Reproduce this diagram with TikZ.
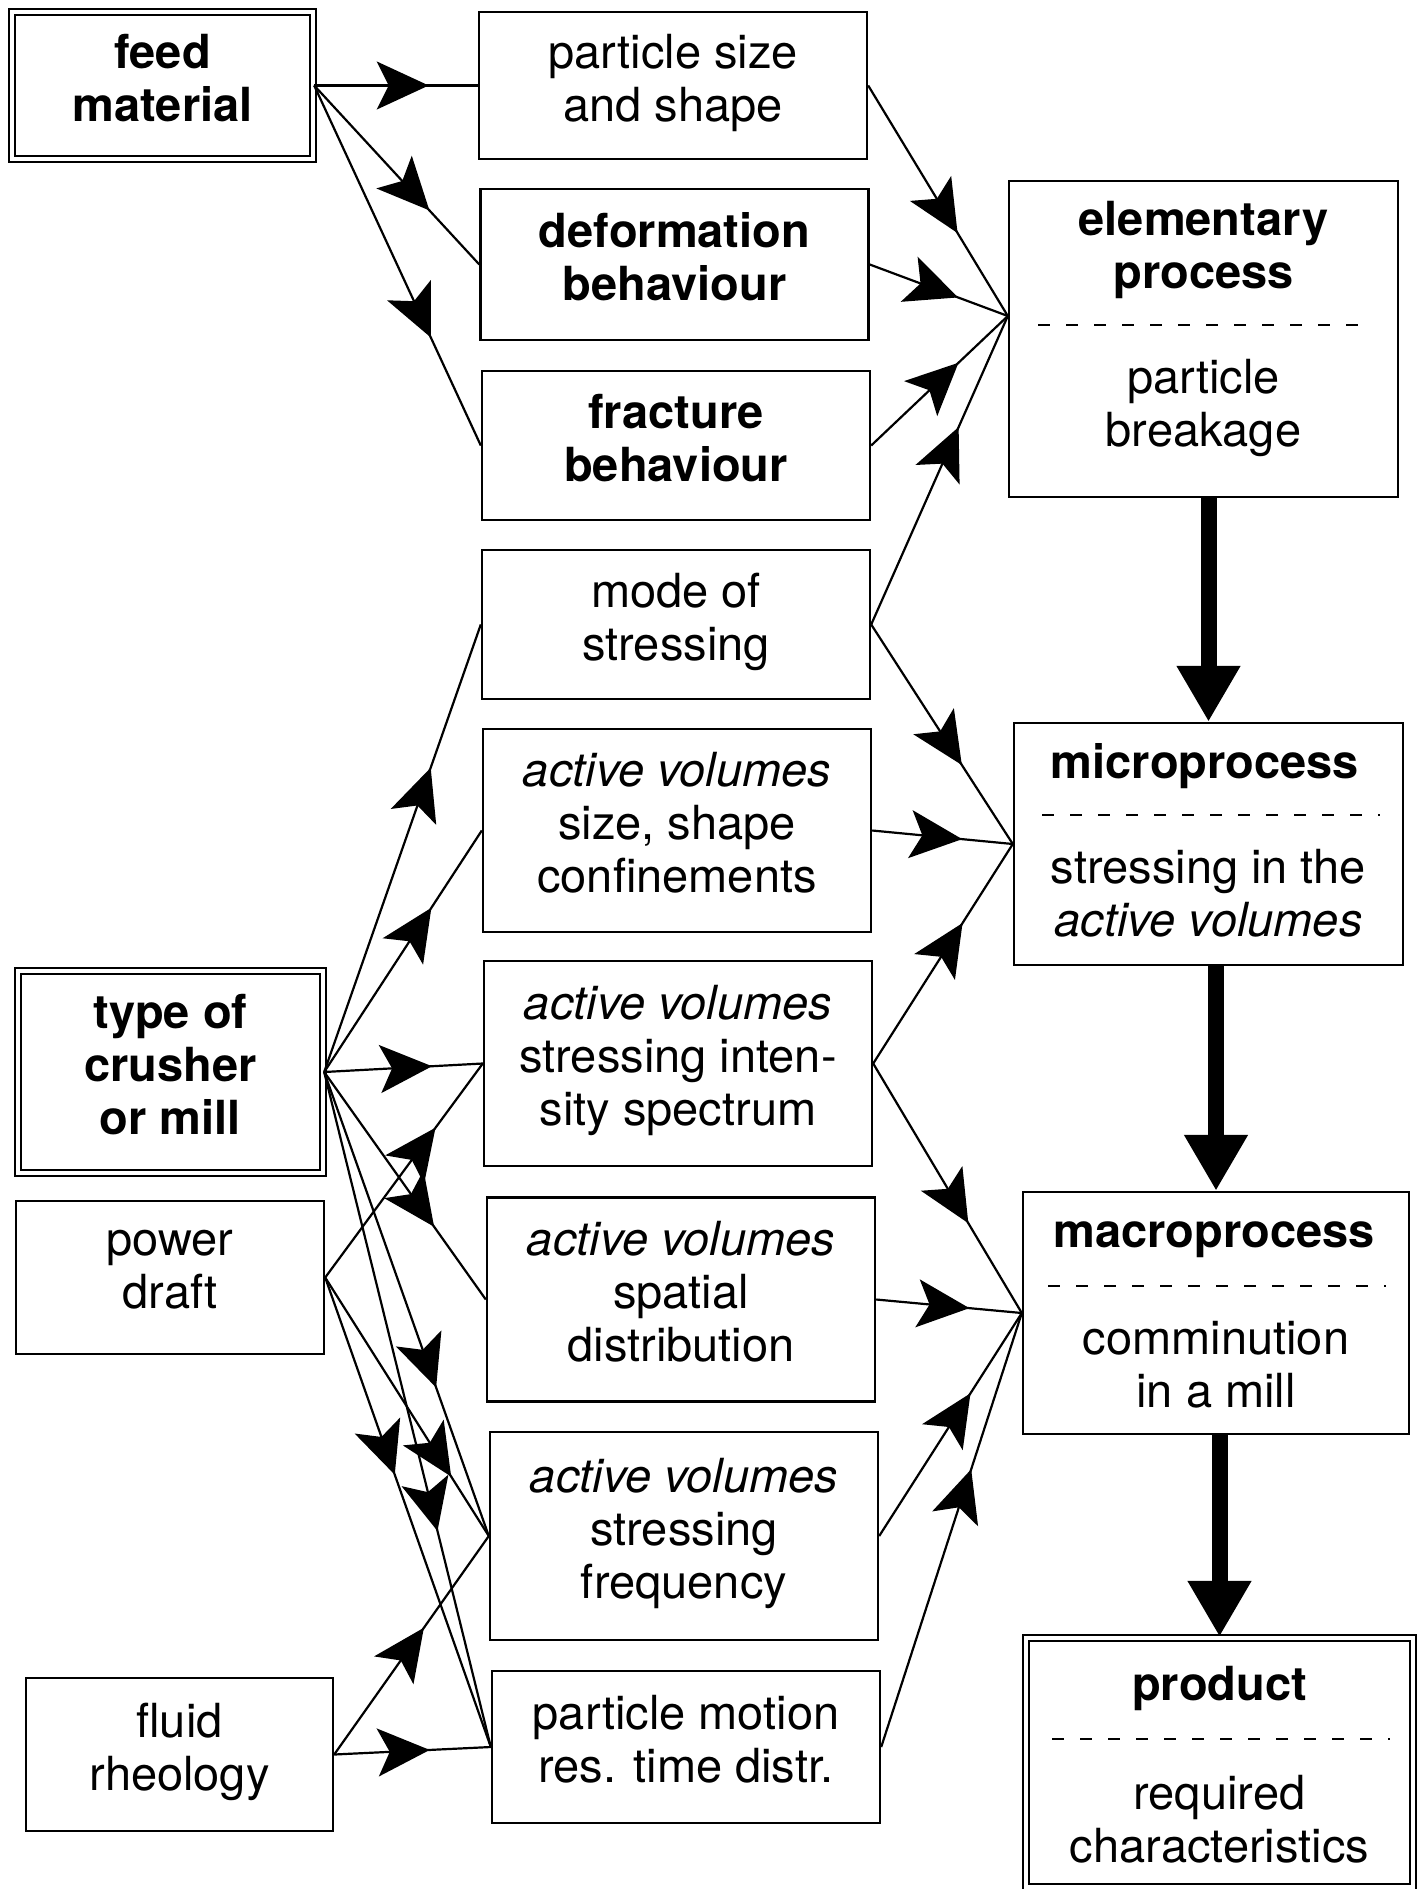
\documentclass[tikz,border=0pt]{standalone}
\usepackage{fontspec}
\setmainfont{TeX Gyre Heros}
\usetikzlibrary{arrows.meta,decorations.markings}

\newcommand{\boxfont}{\fontsize{23.5}{26.5}\selectfont}
\newcommand{\topstrut}{\rule{0pt}{17pt}}
\newcommand{\botstrut}{\rule[-8pt]{0pt}{8pt}}

\tikzset{
  box/.style={draw, line width=1.2pt, inner sep=0pt, align=center, font=\boxfont,
    minimum width=194pt, execute at begin node={\topstrut}, execute at end node={\botstrut}},
  keybox/.style={box, double, double distance=1.6pt},
  label/.style={inner sep=0pt, align=center, font=\boxfont},
  sepline/.style={line width=1pt, dash pattern=on 6pt off 8pt},
  flow/.style={line width=1.1pt,
    decoration={markings, mark=at position #1 with {\arrow{Stealth[length=26pt,width=24pt,inset=6pt]}}},
    postaction={decorate}},
  flow/.default=0.66,
  bigflow/.style={line width=8pt, -{Triangle[length=28pt,width=30pt]}}
}

\begin{document}
\begin{tikzpicture}[x=0.5pt, y=-0.5pt]
\useasboundingbox (0,0) rectangle (1420,1889);

% Inputs
\node[keybox, minimum width=150.5pt, minimum height=73.5pt, font=\boxfont\bfseries] (feed) at (162.5,85.5) {feed\\material};
\node[keybox, minimum width=152.5pt, minimum height=101pt, font=\boxfont\bfseries] (type) at (170.5,1072) {type of\\crusher\\or mill};
\node[box, minimum width=154pt, minimum height=76.5pt] (power) at (170,1277.5) {power\\draft};
\node[box, minimum width=153.5pt, minimum height=76.5pt] (fluid) at (179.5,1754.5) {fluid\\rheology};

% Influencing quantities
\node[box, minimum height=73.5pt] (particle) at (673,85.5) {particle size\\and shape};
\node[box, minimum height=75.5pt, font=\boxfont\bfseries] (deform) at (674.5,264.5) {deformation\\behaviour};
\node[box, minimum height=74.5pt, font=\boxfont\bfseries] (fract) at (676,445.5) {fracture\\behaviour};
\node[box, minimum height=74.5pt] (mode) at (676,624.5) {mode of\\stressing};
\node[box, minimum height=101.5pt] (avsize) at (677,830.5) {\textit{active volumes}\\size, shape\\confinements};
\node[box, minimum height=102.5pt] (avint) at (678,1063.5) {\textit{active volumes}\\stressing inten-\\sity spectrum};
\node[box, minimum height=102pt] (avspat) at (681,1299.5) {\textit{active volumes}\\spatial\\distribution};
\node[box, minimum height=104pt] (avfreq) at (684,1536) {\textit{active volumes}\\stressing\\frequency};
\node[box, minimum height=76pt] (motion) at (686,1747) {particle motion\\res. time distr.};

% Process levels
\node[box, minimum width=194.5pt, minimum height=158pt] (elem) at (1203.5,339) {};
\node[label, font=\boxfont\bfseries] (elemhead) at (1203.5,250) {elementary\\process};
\node[label] (elembody) at (1203.5,408) {particle\\breakage};
\draw[sepline] (1038,325) -- (1373,325);

\node[box, minimum width=194.5pt, minimum height=121pt] (micro) at (1208.5,844) {};
\node[label, font=\boxfont\bfseries] (microhead) at (1205,766) {microprocess};
\node[label] (microbody) at (1208.5,893) {stressing in the\\\textit{active volumes}};
\draw[sepline] (1042,815) -- (1380,815);

\node[box, minimum width=193pt, minimum height=121pt] (macro) at (1216,1313) {};
\node[label, font=\boxfont\bfseries] (macrohead) at (1214,1240) {macroprocess};
\node[label] (macrobody) at (1216,1364.5) {comminution\\in a mill};
\draw[sepline] (1048,1286) -- (1386,1286);

\node[keybox, minimum width=193.5pt, minimum height=124.5pt] (product) at (1219.5,1762.5) {};
\node[label, font=\boxfont\bfseries] (producthead) at (1219.5,1688) {product};
\node[label] (productbody) at (1219.5,1819.5) {required\\characteristics};
\draw[sepline] (1052,1739) -- (1390,1739);

\coordinate (elemin) at ([yshift=11.5pt]elem.west);

% Arrows: inputs
\foreach \t in {particle, deform, fract}
    \draw[flow=0.7] (feed.east) -- (\t.west);
\foreach \t in {mode, avsize, avint, avspat, avfreq, motion}
    \draw[flow=0.68] (type.east) -- (\t.west);
\draw[flow=0.7] (power.east) -- (avint.west);
\draw[flow=0.77] (power.east) -- (avfreq.west);
\draw[flow=0.42] (power.east) -- (motion.west);
\draw[flow=0.58] (fluid.east) -- (avfreq.west);
\draw[flow=0.61] (fluid.east) -- (motion.west);

% Arrows: process levels
\foreach \s in {particle, deform, fract, mode}
    \draw[flow=0.64] (\s.east) -- (elemin);
\foreach \s in {mode, avsize, avint}
    \draw[flow=0.64] (\s.east) -- (micro.west);
\foreach \s in {avint, avspat, avfreq, motion}
    \draw[flow=0.64] (\s.east) -- (macro.west);

\draw[bigflow] (micro.north |- elem.south) -- (micro.north);
\draw[bigflow] (macro.north |- micro.south) -- (macro.north);
\draw[bigflow] (product.north |- macro.south) -- (product.north);

\end{tikzpicture}
\end{document}
